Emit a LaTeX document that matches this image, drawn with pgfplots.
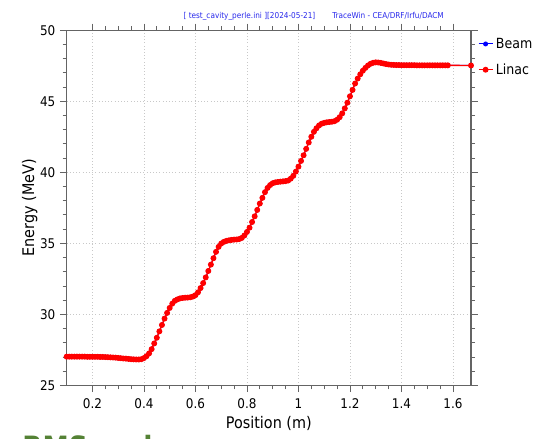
\documentclass[border=0pt]{standalone}
\usepackage{fontspec}
\setmainfont{DejaVu Sans Condensed}
\usepackage{pgfplots}
\usepackage{pgfplotstable}
\pgfplotsset{compat=1.18}
\definecolor{gridgray}{RGB}{200,200,200}
\definecolor{framegray}{RGB}{100,100,100}
\definecolor{slidegreen}{RGB}{84,130,53}
\definecolor{hdrblue}{RGB}{40,40,235}
\pgfplotstableread{
x E
0.10 27.02
0.11 27.02
0.12 27.02
0.13 27.02
0.14 27.02
0.15 27.02
0.16 27.02
0.17 27.02
0.18 27.01
0.19 27.01
0.20 27.01
0.21 27.01
0.22 27.01
0.23 27.00
0.24 27.00
0.25 26.99
0.26 26.98
0.27 26.97
0.28 26.96
0.29 26.95
0.30 26.93
0.31 26.91
0.32 26.89
0.33 26.88
0.34 26.86
0.35 26.84
0.36 26.83
0.37 26.82
0.38 26.82
0.39 26.84
0.40 26.92
0.41 27.05
0.42 27.25
0.43 27.55
0.44 27.95
0.45 28.35
0.46 28.80
0.47 29.25
0.48 29.70
0.49 30.10
0.50 30.45
0.51 30.75
0.52 30.95
0.53 31.05
0.54 31.12
0.55 31.15
0.56 31.17
0.57 31.18
0.58 31.20
0.59 31.25
0.60 31.35
0.61 31.55
0.62 31.85
0.63 32.20
0.64 32.60
0.65 33.05
0.66 33.50
0.67 33.95
0.68 34.40
0.69 34.75
0.70 34.98
0.71 35.10
0.72 35.17
0.73 35.21
0.74 35.24
0.75 35.26
0.76 35.27
0.77 35.30
0.78 35.38
0.79 35.55
0.80 35.80
0.81 36.10
0.82 36.50
0.83 36.90
0.84 37.35
0.85 37.80
0.86 38.20
0.87 38.60
0.88 38.90
0.89 39.10
0.90 39.23
0.91 39.29
0.92 39.32
0.93 39.34
0.94 39.36
0.95 39.38
0.96 39.42
0.97 39.55
0.98 39.75
0.99 40.05
1.00 40.40
1.01 40.80
1.02 41.20
1.03 41.65
1.04 42.10
1.05 42.50
1.06 42.85
1.07 43.10
1.08 43.30
1.09 43.42
1.10 43.48
1.11 43.52
1.12 43.54
1.13 43.56
1.14 43.60
1.15 43.70
1.16 43.88
1.17 44.15
1.18 44.50
1.19 44.90
1.20 45.35
1.21 45.80
1.22 46.25
1.23 46.60
1.24 46.90
1.25 47.15
1.26 47.35
1.27 47.52
1.28 47.64
1.29 47.71
1.30 47.74
1.31 47.73
1.32 47.70
1.33 47.66
1.34 47.62
1.35 47.59
1.36 47.57
1.37 47.56
1.38 47.55
1.39 47.55
1.40 47.54
1.41 47.54
1.42 47.54
1.43 47.54
1.44 47.54
1.45 47.54
1.46 47.53
1.47 47.53
1.48 47.53
1.49 47.53
1.50 47.53
1.51 47.53
1.52 47.53
1.53 47.53
1.54 47.53
1.55 47.53
1.56 47.53
1.57 47.53
1.58 47.53
1.67 47.52
}\linac
\begin{document}
\begin{tikzpicture}
\useasboundingbox (0,0) rectangle (411pt,328.5pt);
\begin{axis}[
  at={(50pt,39.5pt)}, anchor=south west,
  scale only axis, width=303.25pt, height=266.3pt,
  xmin=0.1, xmax=1.67, ymin=25, ymax=50,
  xtick={0.2,0.4,...,1.6}, ytick={25,30,...,50},
  xticklabels={0.2,0.4,0.6,0.8,1,1.2,1.4,1.6},
  minor x tick num=3, minor y tick num=4,
  tick align=outside, major tick length=5pt, minor tick length=3pt,
  axis line style={framegray, line width=0.8pt},
  every tick/.style={framegray, line width=0.6pt},
  grid=major, major grid style={gridgray, dotted, line width=0.6pt},
  /pgf/number format/assume math mode=true,
  ticklabel style={font=\fontsize{10}{12}\selectfont},
  xticklabel style={yshift=-1.5pt},
  xlabel={Position (m)}, ylabel={Energy (MeV)},
  label style={font=\fontsize{12}{14}\selectfont},
  xlabel style={yshift=1pt},
  ylabel style={yshift=-5pt},
  legend style={at={(1,1)}, anchor=north west, xshift=3pt, yshift=-1.5pt,
    draw=none, fill=none, font=\fontsize{10.5}{12}\selectfont,
    row sep=6pt, inner sep=2pt},
  legend cell align=left,
  legend image code/.code={\draw[mark repeat=2, mark phase=2, #1] plot coordinates {(0pt,0pt) (5.25pt,0pt) (10.5pt,0pt)};},
  clip=false,
]
\addplot[blue, line width=0.7pt, mark=*, mark size=1.5pt] table[x=x, y=E] {\linac};
\addlegendentry{Beam}
\addplot[red, line width=1pt, mark=*, mark size=1.7pt] table[x=x, y=E] {\linac};
\addlegendentry{Linac}
\end{axis}
\node[anchor=base west, text=hdrblue, font=\fontsize{6.1}{7}\selectfont, inner sep=0pt] at (137.5pt,314.5pt) {[ test\_cavity\_perle.ini ][2024-05-21]};
\node[anchor=base west, text=hdrblue, font=\fontsize{6.1}{7}\selectfont, inner sep=0pt] at (249pt,314.5pt) {TraceWin - CEA/DRF/Irfu/DACM};
\begin{scope}
\clip (0,0) rectangle (411pt,328.5pt);
\node[anchor=base west, text=slidegreen, font=\fontsize{22}{24}\selectfont\bfseries, inner sep=0pt] at (16.5pt,-14.5pt) {RMS and};
\end{scope}
\end{tikzpicture}
\end{document}
